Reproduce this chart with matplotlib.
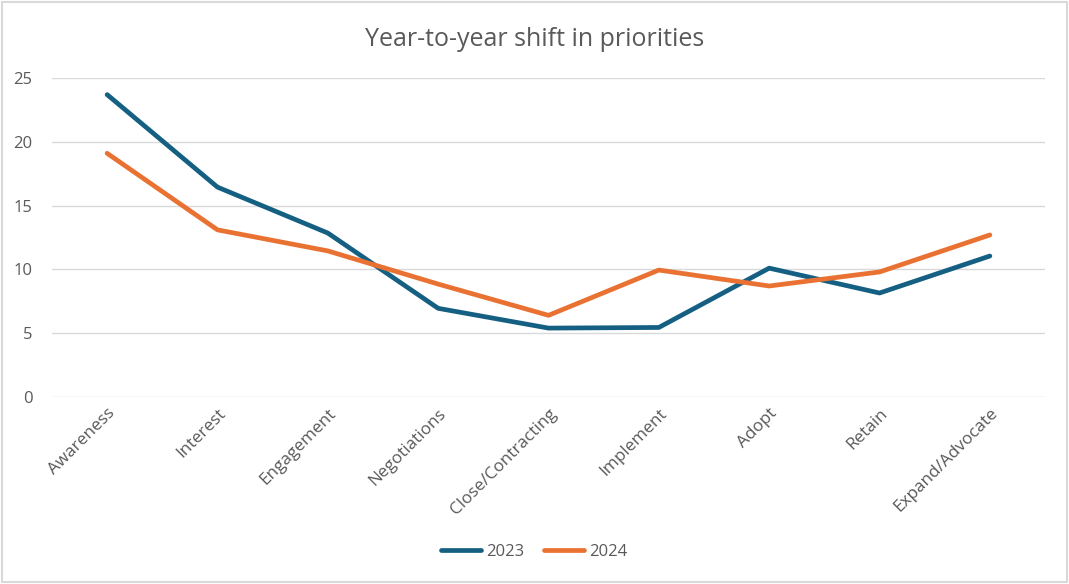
import matplotlib
matplotlib.use("Agg")
from matplotlib import pyplot as plt
from matplotlib.patches import Rectangle

categories = ["Awareness", "Interest", "Engagement", "Negotiations", "Close/Contracting",
              "Implement", "Adopt", "Retain", "Expand/Advocate"]
values_2023 = [23.7, 16.45, 12.85, 6.95, 5.4, 5.45, 10.1, 8.15, 11.05]
values_2024 = [19.1, 13.1, 11.45, 8.85, 6.4, 9.95, 8.7, 9.8, 12.7]
yticks = [0, 5, 10, 15, 20, 25]

plt.rcParams['font.family'] = ['Open Sans', 'DejaVu Sans']
text_color = "#595959"

fig = plt.figure(figsize=(10.69, 5.84), dpi=100)
ax = fig.add_axes([0.0486, 0.3202, 0.929, 0.5462])

x = list(range(len(categories)))
ax.plot(x, values_2023, color="#156082", lw=3.4, label="2023", solid_capstyle="round")
ax.plot(x, values_2024, color="#E97132", lw=3.4, label="2024", solid_capstyle="round")

ax.set_xlim(-0.5, len(categories) - 0.5)
ax.set_ylim(0, 25)
ax.set_yticks(yticks)
ax.set_yticklabels([str(v) for v in yticks], fontsize=12, color=text_color)
ax.set_xticks(x)
ax.set_xticklabels(categories, rotation=45, ha="right", rotation_mode="anchor",
                   fontsize=12.3, color=text_color)
ax.tick_params(axis="both", length=0)
ax.tick_params(axis="y", pad=14)
ax.tick_params(axis="x", pad=6)
ax.grid(axis="y", color="#D9D9D9", lw=1)
ax.set_axisbelow(True)
for s in ax.spines.values():
    s.set_visible(False)

fig.text(0.5, 0.932, "Year-to-year shift in priorities", ha="center", va="center",
         fontsize=18, color=text_color)

leg = fig.legend(loc="center", bbox_to_anchor=(0.5, 0.055), ncol=2, frameon=False,
                 fontsize=12, handlelength=2.4, columnspacing=1.2, handletextpad=0.3)
for t in leg.get_texts():
    t.set_color(text_color)

fig.patches.append(Rectangle((0.002, 0.003), 0.996, 0.994, transform=fig.transFigure,
                             fill=False, edgecolor="#D9D9D9", lw=1.5))

plt.savefig("out.png", dpi=100)
